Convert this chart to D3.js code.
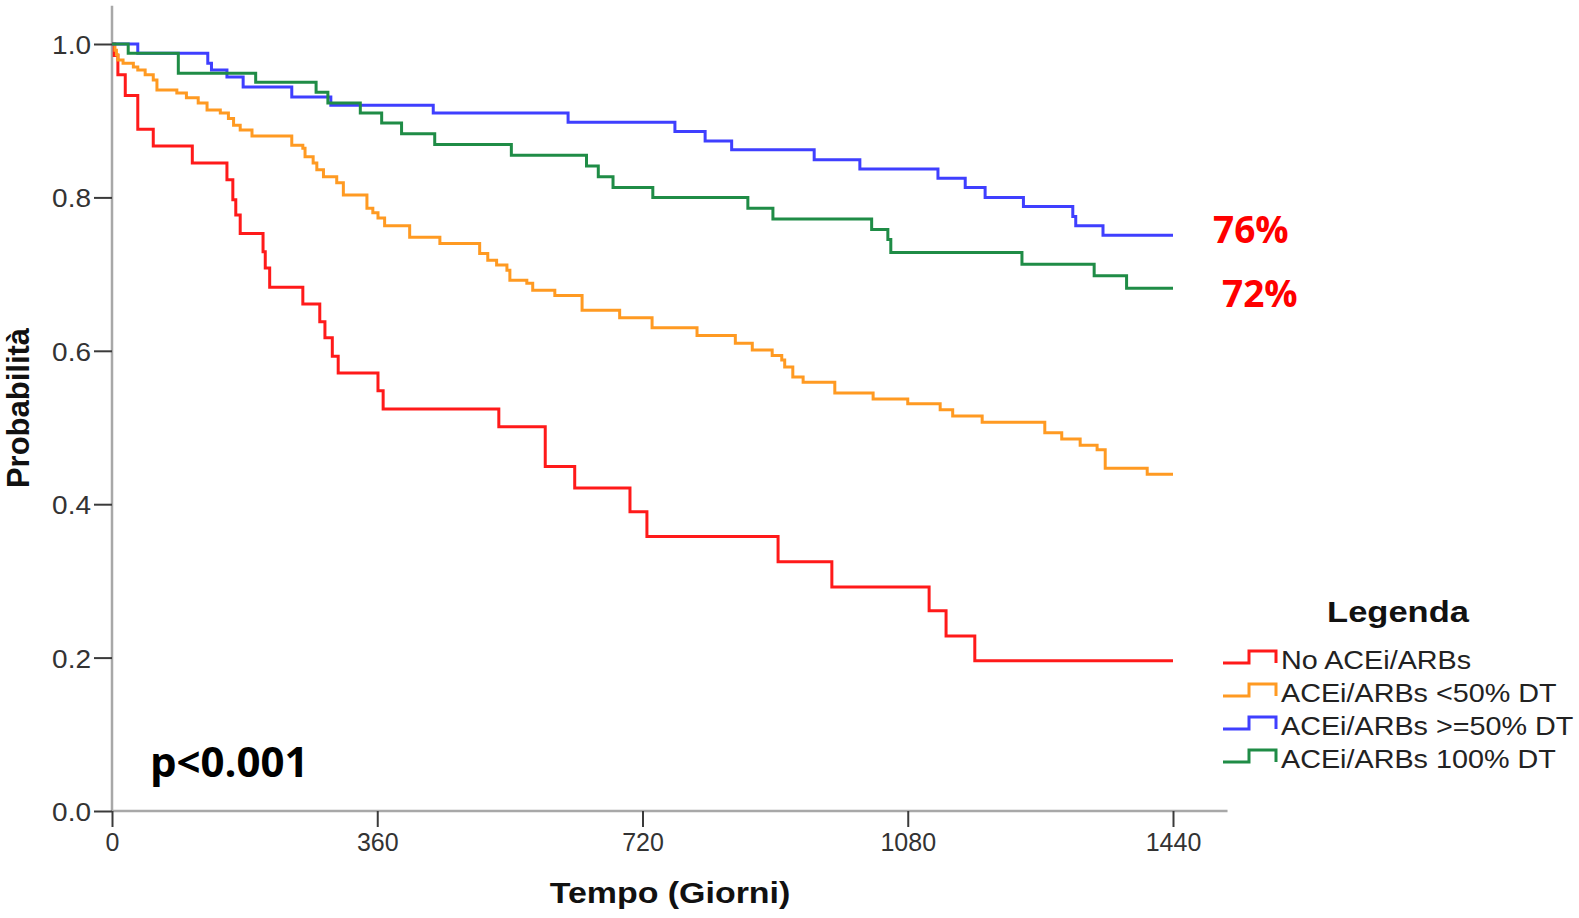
<!DOCTYPE html>
<html><head><meta charset="utf-8">
<script src="https://cdn.jsdelivr.net/npm/d3@7"></script>
<style>body{margin:0;background:#fff} svg{display:block}</style>
</head><body><svg id="c" width="1579" height="918"></svg>
<script>
// ---- data ----
const seriesNames = ["No ACEi/ARBs", "ACEi/ARBs <50% DT", "ACEi/ARBs >=50% DT", "ACEi/ARBs 100% DT"];
const seriesColors = ["#ff1a1a", "#ff9a22", "#3f3fff", "#1f8c46"];

const noAceDays = [0,3,8,18,35,56,109,156,164,168,174,205,208,214,259,282,289,299,307,361,368,525,588,628,703,726,904,977,1109,1132,1171,1440];
const noAceSurv = [1,0.985,0.96,0.933,0.889,0.867,0.845,0.823,0.797,0.777,0.753,0.729,0.708,0.683,0.661,0.638,0.617,0.593,0.571,0.548,0.524,0.501,0.449,0.421,0.390,0.358,0.325,0.292,0.261,0.228,0.196,0.196];

const lowDoseDays = [0,4,6,8,15,29,35,45,56,61,88,101,117,129,147,158,165,174,190,244,259,262,273,278,287,305,314,346,354,361,370,404,445,499,510,522,536,540,563,571,601,638,689,733,794,846,869,896,909,913,924,938,981,1033,1080,1124,1141,1181,1266,1289,1314,1337,1348,1405,1440];
const lowDoseSurv = [1,0.992,0.986,0.979,0.975,0.970,0.966,0.960,0.953,0.940,0.936,0.930,0.923,0.914,0.910,0.903,0.894,0.888,0.880,0.868,0.864,0.853,0.845,0.836,0.827,0.819,0.803,0.786,0.780,0.773,0.763,0.748,0.740,0.727,0.718,0.712,0.705,0.692,0.688,0.679,0.672,0.653,0.643,0.630,0.620,0.610,0.601,0.594,0.588,0.579,0.566,0.559,0.545,0.537,0.531,0.523,0.515,0.507,0.493,0.485,0.477,0.471,0.447,0.439,0.439];

const halfDoseDays = [0,35,130,135,156,178,244,297,436,619,764,805,841,953,1015,1121,1158,1185,1237,1304,1308,1345,1440];
const halfDoseSurv = [1,0.988,0.975,0.966,0.957,0.944,0.931,0.920,0.910,0.898,0.886,0.8735,0.862,0.849,0.837,0.825,0.813,0.800,0.788,0.775,0.763,0.7505,0.7505];

const fullDoseDays = [0,22,90,195,277,293,337,366,393,438,542,644,660,680,734,863,897,1031,1053,1057,1235,1333,1377,1440];
const fullDoseSurv = [1,0.988,0.962,0.950,0.937,0.923,0.910,0.897,0.883,0.869,0.855,0.841,0.827,0.813,0.800,0.786,0.772,0.758,0.745,0.728,0.713,0.698,0.6815,0.6815];

const xTickValues = [0, 360, 720, 1080, 1440];
const yTickValues = [0, 0.2, 0.4, 0.6, 0.8, 1.0];
const endLabels = ["76%", "72%"];
const endLabelValues = [0.7505, 0.6815];
const pValueText = "p<0.001";
const xTitle = "Tempo (Giorni)";
const yTitle = "Probabilità";
const legendTitle = "Legenda";

// ---- drawing ----
const svg = d3.select("#c");
const x = d3.scaleLinear().domain([0, 1440]).range([112, 1173]);
const y = d3.scaleLinear().domain([0, 1]).range([811, 44]);

const allSeries = [
  {days: noAceDays, surv: noAceSurv},
  {days: lowDoseDays, surv: lowDoseSurv},
  {days: halfDoseDays, surv: halfDoseSurv},
  {days: fullDoseDays, surv: fullDoseSurv}
];

// axis lines (gray)
svg.append("line").attr("x1", x(0)).attr("x2", x(0)).attr("y1", y(1.05)).attr("y2", y(0))
  .attr("stroke", "#a8a8a8").attr("stroke-width", 2.5);
svg.append("line").attr("x1", x(0)).attr("x2", x(1514)).attr("y1", y(0)).attr("y2", y(0))
  .attr("stroke", "#a8a8a8").attr("stroke-width", 2.5);

const yAxis = svg.append("g").attr("transform", `translate(${x(0)},0)`)
  .call(d3.axisLeft(y).tickValues(yTickValues).tickFormat(d3.format(".1f")).tickSize(18).tickPadding(3));
yAxis.select(".domain").remove();
yAxis.selectAll(".tick line").attr("stroke", "#3a3a3a").attr("stroke-width", 2);
yAxis.selectAll(".tick text").attr("font-family", "Liberation Sans, Arial, sans-serif")
  .attr("font-size", 25).attr("fill", "#333").attr("dy", "0.38em")
  .attr("transform", "scale(1.12,1)").attr("x", -21 / 1.12);

const xAxis = svg.append("g").attr("transform", `translate(0,${y(0)})`)
  .call(d3.axisBottom(x).tickValues(xTickValues).tickFormat(d3.format("d")).tickSize(16).tickPadding(6));
xAxis.select(".domain").remove();
xAxis.selectAll(".tick line").attr("stroke", "#3a3a3a").attr("stroke-width", 2);
xAxis.selectAll(".tick text").attr("font-family", "Liberation Sans, Arial, sans-serif")
  .attr("font-size", 25).attr("fill", "#333").attr("dy", "0.71em");

// curves
const line = d3.line().x(d => x(d[0])).y(d => y(d[1])).curve(d3.curveStepAfter);
allSeries.forEach((s, i) => {
  const pts = s.days.map((d, j) => [d, s.surv[j]]);
  svg.append("path").datum(pts).attr("d", line).attr("fill", "none")
    .attr("stroke", seriesColors[i]).attr("stroke-width", 3);
});

// end labels
const endX = [1213, 1222];
const endDy = [8, 19];
endLabels.forEach((t, i) => {
  svg.append("text").attr("x", endX[i]).attr("y", y(endLabelValues[i]) + endDy[i])
    .attr("font-family", "Open Sans, sans-serif").attr("font-weight", 700)
    .attr("font-size", 37).attr("fill", "#ff0000").text(t);
});

// p value
svg.append("text").attr("x", 150).attr("y", 777)
  .attr("font-family", "Open Sans, sans-serif").attr("font-weight", 700)
  .attr("font-size", 42).attr("fill", "#000").text(pValueText);

// axis titles
svg.append("text").attr("transform", "translate(670,903) scale(1.17,1)").attr("text-anchor", "middle")
  .attr("font-family", "Liberation Sans, Arial, sans-serif").attr("font-weight", 700)
  .attr("font-size", 29).attr("fill", "#111").text(xTitle);
svg.append("text").attr("transform", "translate(29,408) rotate(-90)").attr("text-anchor", "middle")
  .attr("font-family", "Liberation Sans, Arial, sans-serif").attr("font-weight", 700)
  .attr("font-size", 31).attr("fill", "#111").text(yTitle);

// legend
const lg = svg.append("g");
lg.append("text").attr("transform", "translate(1398,622) scale(1.15,1)").attr("text-anchor", "middle")
  .attr("font-family", "Liberation Sans, Arial, sans-serif").attr("font-weight", 700)
  .attr("font-size", 30).attr("fill", "#111").text(legendTitle);
seriesNames.forEach((name, i) => {
  const by = 669 + i * 33;
  const g = lg.append("g").attr("transform", `translate(0,${by})`);
  g.append("path").attr("d", "M1223,-6 H1249 V-18 H1276 V-6").attr("fill", "none")
    .attr("stroke", seriesColors[i]).attr("stroke-width", 3);
  g.append("text").attr("transform", "translate(1281,0) scale(1.15,1)")
    .attr("font-family", "Liberation Sans, Arial, sans-serif").attr("font-size", 25)
    .attr("fill", "#222").text(name);
});
</script>
</body></html>
